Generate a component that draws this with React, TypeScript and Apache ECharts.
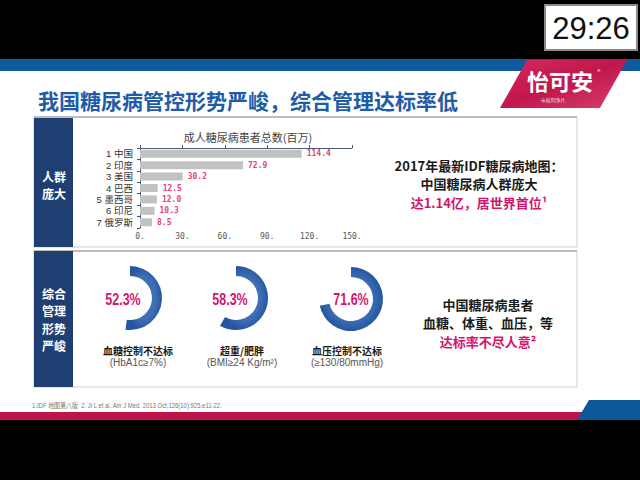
import React, { useEffect, useRef } from "react";
import * as echarts from "echarts";

const categories = ["1 中国", "2 印度", "3 美国", "4 巴西", "5 墨西哥", "6 印尼", "7 俄罗斯"];
const patients = [114.4, 72.9, 30.2, 12.5, 12.0, 10.3, 8.5];
const xMin = 0;
const xMax = 150;
const xStep = 30;
const donutValues = [52.3, 58.3, 71.6];
const donutTitles = ["血糖控制不达标", "超重/肥胖", "血压控制不达标"];
const donutNotes = ["(HbA1c≥7%)", "(BMI≥24 Kg/m²)", "(≥130/80mmHg)"];
const donutCenters = [
  [130, 298],
  [236, 298],
  [351, 299],
];
const labelCenters = [123, 230, 351];
const captionCenters = [138, 242, 347];

const CJK = "'Noto Sans CJK SC', 'Noto Sans', sans-serif";

export default function App() {
  const ref = useRef<HTMLDivElement>(null);
  useEffect(() => {
    document.body.style.margin = "0";
    const chart = echarts.init(ref.current!, undefined, { renderer: "svg" });

    const pieSeries = donutValues.map((v, i) => ({
      type: "pie",
      silent: true,
      center: donutCenters[i],
      radius: [22, 32],
      startAngle: 90,
      clockwise: true,
      label: { show: false },
      labelLine: { show: false },
      z: 5,
      data: [
        {
          value: v,
          itemStyle: {
            color: {
              type: "radial",
              x: 0.5,
              y: 0.5,
              r: 0.5,
              colorStops: [
                { offset: 0.65, color: "#3f70b6" },
                { offset: 1, color: "#2556a0" },
              ],
            },
          },
        },
        { value: 100 - v, itemStyle: { color: "rgba(0,0,0,0)" } },
      ],
    }));

    const txt = (
      text: string,
      x: number,
      y: number,
      size: number,
      fill: string,
      weight: string = "normal",
      align: string = "center",
      family: string = CJK,
      scaleX: number = 1
    ) => ({
      type: "text",
      z: 10,
      x,
      y,
      scaleX,
      style: {
        text,
        x: 0,
        y: 0,
        fill,
        font: `${weight} ${size}px ${family}`,
        textAlign: align,
        textVerticalAlign: "middle",
        verticalAlign: "middle",
      },
    });

    const graphics: any[] = [
      { type: "rect", z: 1, shape: { x: 0, y: 0, width: 640, height: 59 }, style: { fill: "#000" } },
      { type: "rect", z: 1, shape: { x: 0, y: 59, width: 640, height: 12 }, style: { fill: "#0e5a9c" } },
      {
        type: "rect",
        z: 2,
        shape: { x: 545, y: 5, width: 92, height: 45 },
        style: { fill: "#fff", stroke: "#8a8a8a", lineWidth: 2 },
      },
      txt("29:26", 591, 28, 31, "#111", "normal", "center", "'Liberation Sans', Arial, sans-serif"),
      {
        type: "polygon",
        z: 2,
        shape: { points: [[527, 60], [627, 60], [600, 108], [500, 108]] },
        style: {
          fill: {
            type: "linear",
            x: 0,
            y: 0,
            x2: 1,
            y2: 1,
            colorStops: [
              { offset: 0, color: "#d42a5e" },
              { offset: 0.5, color: "#c2174c" },
              { offset: 1, color: "#d8426f" },
            ],
          },
        },
      },
      txt("怡可安", 560, 80, 22, "#fff", "bold"),
      txt("卡格列净片", 553, 99, 5, "rgba(255,255,255,0.85)"),
      txt("®", 599, 71, 6, "#fff"),
      txt("我国糖尿病管控形势严峻，综合管理达标率低", 38, 100, 21, "#1f5ca8", "bold", "left"),
      {
        type: "rect",
        z: 1,
        shape: { x: 34, y: 117, width: 543, height: 130 },
        style: { fill: "rgba(0,0,0,0)", stroke: "#cfcfcf", lineWidth: 1 },
      },
      { type: "line", z: 2, shape: { x1: 34, y1: 117, x2: 577, y2: 117 }, style: { stroke: "#bdbdbd", lineWidth: 2 } },
      { type: "rect", z: 2, shape: { x: 34, y: 118, width: 39, height: 129 }, style: { fill: "#1f3e72" } },
      txt("人群", 54, 176, 12, "#fff", "bold"),
      txt("庞大", 54, 193.5, 12, "#fff", "bold"),
      {
        type: "rect",
        z: 1,
        shape: { x: 34, y: 251, width: 543, height: 136 },
        style: { fill: "rgba(0,0,0,0)", stroke: "#cfcfcf", lineWidth: 1 },
      },
      { type: "line", z: 2, shape: { x1: 34, y1: 251, x2: 577, y2: 251 }, style: { stroke: "#bdbdbd", lineWidth: 2 } },
      { type: "rect", z: 2, shape: { x: 34, y: 251, width: 39, height: 136 }, style: { fill: "#1f3e72" } },
      txt("综合", 54, 293, 12, "#fff", "bold"),
      txt("管理", 54, 310.5, 12, "#fff", "bold"),
      txt("形势", 54, 328, 12, "#fff", "bold"),
      txt("严峻", 54, 345.5, 12, "#fff", "bold"),
      txt("2017年最新IDF糖尿病地图：", 479, 165, 13, "#1a1a1a", "bold"),
      txt("中国糖尿病人群庞大", 479, 183.5, 13, "#1a1a1a", "bold"),
      txt("达1.14亿，居世界首位¹", 479, 202, 13, "#d4156b", "bold"),
      txt("中国糖尿病患者", 488, 304, 13, "#1a1a1a", "bold"),
      txt("血糖、体重、血压，等", 488, 322.5, 13, "#1a1a1a", "bold"),
      txt("达标率不尽人意²", 488, 341, 13, "#d4156b", "bold"),
      txt(
        "1.IDF 地图第八版  2. Ji L et al. Am J Med. 2013 Oct;126(10):925.e11-22.",
        32,
        405,
        7,
        "#777",
        "normal",
        "left",
        "'Liberation Sans', " + CJK,
        0.85
      ),
      { type: "rect", z: 1, shape: { x: 0, y: 412, width: 640, height: 8 }, style: { fill: "#c0134a" } },
      { type: "polygon", z: 2, shape: { points: [[589, 400], [640, 400], [640, 420], [577, 420]] }, style: { fill: "#0d5899" } },
      { type: "rect", z: 1, shape: { x: 0, y: 420, width: 640, height: 60 }, style: { fill: "#000" } },
    ];

    donutValues.forEach((v, i) => {
      graphics.push(
        txt(
          v.toFixed(1) + "%",
          labelCenters[i],
          299,
          16,
          "#d4156b",
          "bold",
          "center",
          "'Liberation Sans', Arial, sans-serif",
          0.78
        )
      );
      graphics.push(txt(donutTitles[i], captionCenters[i], 350, 10, "#1a1a1a", "bold"));
      graphics.push(txt(donutNotes[i], captionCenters[i], 362, 10, "#555", "normal", "center", "'Liberation Sans', " + CJK));
    });

    chart.setOption({
      animation: false,
      backgroundColor: "#fff",
      title: {
        text: "成人糖尿病患者总数(百万)",
        left: 243,
        top: 126,
        textAlign: "center",
        textStyle: { fontSize: 11, fontWeight: "normal", color: "#444", fontFamily: CJK },
      },
      grid: { left: 140, top: 148, width: 212, height: 80, containLabel: false },
      xAxis: [
        {
          type: "value",
          position: "bottom",
          min: xMin,
          max: xMax,
          interval: xStep,
          axisLine: { show: false },
          axisTick: { show: false },
          splitLine: { show: false },
          axisLabel: {
            fontSize: 8,
            color: "#555",
            margin: 4,
            fontFamily: "'DejaVu Sans Mono', monospace",
            formatter: (v: number) => v + ".",
          },
        },
        {
          type: "value",
          position: "top",
          min: xMin,
          max: xMax,
          interval: xStep,
          axisLine: { show: true, lineStyle: { color: "#4d5b78", width: 1 } },
          axisTick: { show: true, length: 3, lineStyle: { color: "#4d5b78" } },
          axisLabel: { show: false },
          splitLine: { show: false },
        },
      ],
      yAxis: {
        type: "category",
        inverse: true,
        data: categories,
        axisLine: { show: true, lineStyle: { color: "#4d5b78", width: 1 } },
        axisTick: { show: true, length: 3, lineStyle: { color: "#4d5b78" } },
        axisLabel: {
          interval: 0,
          fontSize: 9.5,
          color: "#333",
          margin: 7,
          fontFamily: "'Liberation Sans', " + CJK,
          lineHeight: 10,
        },
      },
      graphic: { elements: graphics },
      series: [
        {
          type: "bar",
          xAxisIndex: 0,
          data: patients,
          barWidth: 8,
          z: 5,
          itemStyle: { color: "#c2c2c2" },
          label: {
            show: true,
            position: "right",
            distance: 5,
            color: "#e8407c",
            fontSize: 8,
            fontWeight: "bold",
            fontFamily: "'DejaVu Sans Mono', monospace",
            formatter: (p: any) => Number(p.value).toFixed(1),
          },
        },
        ...pieSeries,
      ],
    });
    return () => chart.dispose();
  }, []);
  return <div ref={ref} style={{ width: 640, height: 480 }} />;
}
